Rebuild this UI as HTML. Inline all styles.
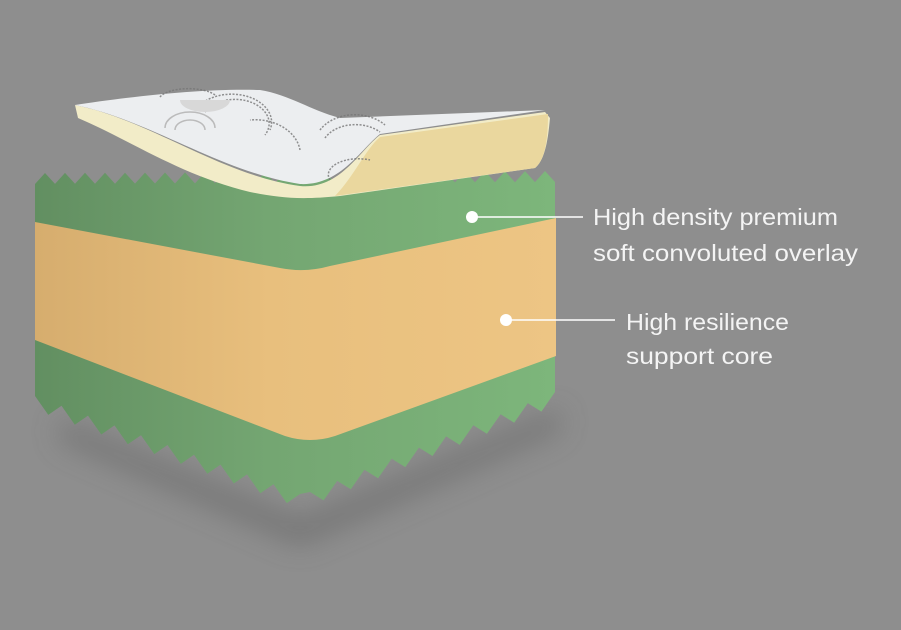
<!DOCTYPE html>
<html><head><meta charset="utf-8"><style>
html,body{margin:0;padding:0;background:#8e8e8e;width:901px;height:630px;overflow:hidden}
svg{display:block}
text{font-family:"Liberation Sans",sans-serif;fill:#f4f4f4;font-size:23px}
</style></head><body>
<svg id="s" width="901" height="630" viewBox="0 0 901 630" xmlns="http://www.w3.org/2000/svg">
<defs>
<filter id="blur" x="-20%" y="-50%" width="140%" height="200%"><feGaussianBlur stdDeviation="14"/></filter>
<linearGradient id="gl" x1="0" x2="1" y1="0" y2="0">
<stop offset="0" stop-color="#628f61"/><stop offset="0.45" stop-color="#74a672"/><stop offset="1" stop-color="#7db67b"/></linearGradient>
<linearGradient id="tl" x1="0" x2="1" y1="0" y2="0">
<stop offset="0" stop-color="#d6ad6e"/><stop offset="0.45" stop-color="#e8bf7d"/><stop offset="1" stop-color="#edc584"/></linearGradient>
</defs>
<path d="M60,420 L300,520 L560,410 L560,430 L300,545 L60,440Z" fill="#5a5a5a" opacity="0.5" filter="url(#blur)"/>
<path id="green" fill="url(#gl)" d=""/>
<path d="M35,222 L280,268 Q305,273 330,266 L556,218 L556,356 L335,436 Q310,444 285,436 L35,340Z" fill="url(#tl)"/>
<!-- cover -->
<path d="M75,105 C150,120 220,175 300,186 C340,190 360,150 380,135 L545,112 L550,118 C548,140 545,160 535,168 L340,196 C300,200 280,198 250,192 C180,175 130,140 78,118 Z" fill="#f2ecc8"/>
<path d="M380,137 L548,114 C548,140 545,160 535,168 L335,196 C355,175 365,150 380,137Z" fill="#ead79e"/>
<path d="M75,105 C120,98 200,88 260,90 C290,95 310,110 340,118 L545,110 L380,134 C360,150 340,186 300,184 C220,172 150,120 75,105Z" fill="#eceef0"/>
<g fill="none" stroke="#777" stroke-width="1.5" stroke-dasharray="2 1.5" opacity="0.8">
<path d="M200,105 A40,28 0 0 1 270,130"/><path d="M205,112 A34,24 0 0 1 265,135"/>
<path d="M300,150 A45,35 0 0 0 250,120"/>
<path d="M320,130 A40,30 0 0 1 385,125"/><path d="M325,138 A34,24 0 0 1 380,132"/>
<path d="M330,180 A30,16 0 0 1 370,160"/>
<path d="M160,97 A30,12 0 0 1 215,95"/>
</g>
<g fill="none" stroke="#bbb" stroke-width="1.5">
<path d="M165,128 A25,16 0 0 1 215,128"/><path d="M175,130 A15,10 0 0 1 205,130"/>
<path d="M180,100 A25,12 0 0 0 230,100" fill="#d8d8d8" stroke="none"/>
</g>
<!-- labels -->
<g fill="#fff" stroke="#fff" stroke-width="1.5">
<circle cx="472" cy="217" r="6" stroke="none"/><line x1="472" y1="217" x2="583" y2="217"/>
<circle cx="506" cy="320" r="6" stroke="none"/><line x1="506" y1="320" x2="615" y2="320"/>
</g>
<text x="593" y="225" textLength="245" lengthAdjust="spacingAndGlyphs">High density premium</text>
<text x="593" y="261" textLength="265" lengthAdjust="spacingAndGlyphs">soft convoluted overlay</text>
<text x="626" y="330" textLength="163" lengthAdjust="spacingAndGlyphs">High resilience</text>
<text x="626" y="364" textLength="147" lengthAdjust="spacingAndGlyphs">support core</text>
</svg>
<script>
(function(){
 function teeth(x0,y0,x1,y1,amp,per,dir){
  var pts=[],dx=x1-x0,dy=y1-y0,L=Math.hypot(dx,dy),n=Math.max(1,Math.round(L/per));
  for(var i=0;i<=n*2;i++){var t=i/(n*2);var o=(i%2?amp:0)*dir;pts.push([x0+dx*t,y0+dy*t+o]);}
  return pts;}
 var p=teeth(35,184,555,182,-11,20,1);
 var b=[].concat(teeth(555,392,310,492,14,28,1),teeth(300,494,35,396,14,28,1));
 var d="M"+p.map(function(q){return q[0].toFixed(1)+","+q[1].toFixed(1)}).join(" L");
 d+=" L555,392 "+b.map(function(q){return "L"+q[0].toFixed(1)+","+q[1].toFixed(1)}).join(" ")+" Z";
 document.getElementById("green").setAttribute("d",d);
})();
</script>
</body></html>
